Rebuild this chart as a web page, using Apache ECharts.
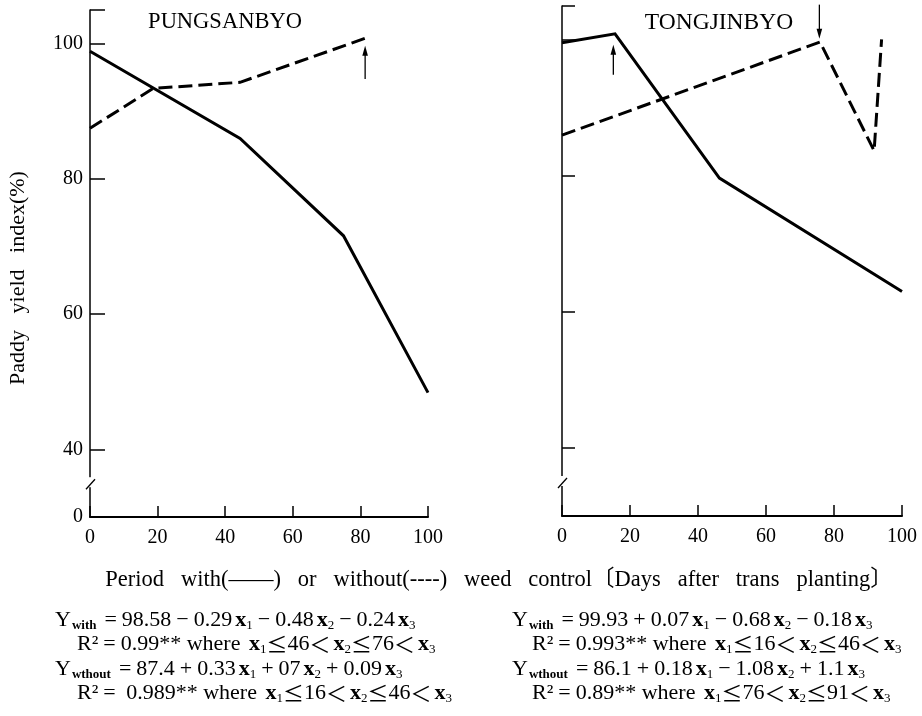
<!DOCTYPE html>
<html>
<head>
<meta charset="utf-8">
<script src="https://cdn.jsdelivr.net/npm/echarts@6/dist/echarts.min.js"></script>
<style>
html,body{margin:0;padding:0;background:#fff;}
#main{width:922px;height:716px;}
</style>
</head>
<body>
<div id="main"></div>
<script>
// ---- data (days after transplanting, yield index %) ----
const panelTitles = ['PUNGSANBYO', 'TONGJINBYO'];
const xTicks = [0, 20, 40, 60, 80, 100];
const yTickValues = [40, 60, 80, 100, 105];
const yLabelValues = [30, 40, 60, 80, 100];
const yLabelText = ['0', '40', '60', '80', '100'];

const leftWithDays = [0, 44.4, 75, 100];
const leftWithYield = [98.9, 86.0, 71.6, 48.4];
const leftWithoutDays = [0, 18.7, 44.4, 81.9];
const leftWithoutYield = [87.5, 93.4, 94.3, 100.9];

const rightWithDays = [0, 15.6, 46.3, 100];
const rightWithYield = [99.6, 100.9, 79.7, 63.0];
const rightWithoutDays = [0, 75.9, 91.8, 94.0];
const rightWithoutYield = [86.0, 99.7, 83.7, 100.1];

// arrows: [day, tail value, head value]
const leftArrows = [[81.4, 94.8, 99.7]];
const rightArrows = [[15.1, 94.9, 99.3], [75.7, 105.2, 100.2]];

const axisBreakValue = [[0, 35.0]];

const FONT = '"Liberation Serif", "DejaVu Serif", "Noto Sans CJK JP", serif';
const CJK = '"Noto Sans CJK JP", "Liberation Serif", serif';

function pairs(xs, ys) { return xs.map((x, i) => [x, ys[i]]); }

function yAxisCfg(gridIndex, showLabels, tickLen) {
  return {
    type: 'value', gridIndex: gridIndex, min: 30, max: 105,
    axisLine: { show: true, lineStyle: { color: '#000', width: 1.5 } },
    axisTick: { show: true, inside: true, length: tickLen, customValues: yTickValues,
                lineStyle: { color: '#000', width: 1.5 } },
    axisLabel: { show: showLabels, customValues: yLabelValues,
                 formatter: function (v) { const i = yLabelValues.indexOf(v); return i >= 0 ? yLabelText[i] : ''; },
                 fontFamily: FONT, fontSize: 20, color: '#000', margin: 7 },
    splitLine: { show: false }
  };
}
function xAxisCfg(gridIndex) {
  return {
    type: 'value', gridIndex: gridIndex, min: 0, max: 100, interval: 20,
    axisLine: { show: true, lineStyle: { color: '#000', width: 2 } },
    axisTick: { show: true, inside: true, length: 11, lineStyle: { color: '#000', width: 1.5 } },
    axisLabel: { fontFamily: FONT, fontSize: 20, color: '#000', margin: 11,
                 customValues: xTicks },
    splitLine: { show: false }
  };
}

function arrowRender(params, api) {
  const p0 = api.coord([api.value(0), api.value(1)]);
  const p1 = api.coord([api.value(0), api.value(2)]);
  const dir = p1[1] < p0[1] ? -1 : 1;
  const headLen = 10, hw = 2.8;
  return {
    type: 'group',
    children: [
      { type: 'line', shape: { x1: p0[0], y1: p0[1], x2: p1[0], y2: p1[1] - dir * headLen * 0.6 },
        style: { stroke: '#000', lineWidth: 1.3 } },
      { type: 'polygon', shape: { points: [[p1[0], p1[1]], [p1[0] - hw, p1[1] - dir * headLen], [p1[0] + hw, p1[1] - dir * headLen]] },
        style: { fill: '#000' } }
    ]
  };
}
function breakRender(params, api) {
  const p = api.coord([api.value(0), api.value(1)]);
  return {
    type: 'group',
    children: [
      { type: 'rect', shape: { x: p[0] - 3, y: p[1] - 6, width: 6, height: 10 }, style: { fill: '#fff' } },
      { type: 'line', shape: { x1: p[0] - 4, y1: p[1] + 6, x2: p[0] + 5, y2: p[1] - 4 },
        style: { stroke: '#000', lineWidth: 1.3 } }
    ]
  };
}

function lineSeries(xi, data, dashed) {
  return {
    type: 'line', xAxisIndex: xi, yAxisIndex: xi, data: data, symbol: 'none', silent: true,
    lineStyle: { color: '#000', width: 3, type: dashed ? [14, 6] : 'solid', join: 'miter' },
    z: 3, animation: false
  };
}

const rich = {
  n: { fontFamily: FONT, fontSize: 22, color: '#000' },
  o: { fontFamily: FONT, fontSize: 22, color: '#000', padding: [0, 5, 0, 5] },
  s: { fontFamily: FONT, fontSize: 13, fontWeight: 'bold', color: '#000', padding: [11, 3, 0, 1] },
  x: { fontFamily: FONT, fontSize: 22, fontWeight: 'bold', color: '#000', padding: [0, 0, 0, 3] },
  i: { fontFamily: FONT, fontSize: 13, color: '#000', padding: [11, 0, 0, 0] },
  c: { fontFamily: CJK, fontSize: 21, color: '#000' }
};
function ftext(x, y, t) {
  return { type: 'text', x: x, y: y, style: { text: t, rich: rich, verticalAlign: 'middle', align: 'left' } };
}
const X1 = '{x|x}{i|1}', X2 = '{x|x}{i|2}', X3 = '{x|x}{i|3}';
const eqLines = [
  [55, 620, '{n|Y}{s|with}{o|=}{n|98.58}{o|−}{n|0.29}' + X1 + '{o|−}{n|0.48}' + X2 + '{o|−}{n|0.24}' + X3],
  [77, 644, '{n|R²}{o|=}{n|0.99** where }' + X1 + '{c|≤}{n|46}{c|＜}' + X2 + '{c|≤}{n|76}{c|＜}' + X3],
  [55, 669, '{n|Y}{s|wthout}{o|=}{n|87.4}{o|+}{n|0.33}' + X1 + '{o|+}{n|07}' + X2 + '{o|+}{n|0.09}' + X3],
  [77, 693, '{n|R²}{o|=}{n| 0.989** where }' + X1 + '{c|≤}{n|16}{c|＜}' + X2 + '{c|≤}{n|46}{c|＜}' + X3],
  [512, 620, '{n|Y}{s|with}{o|=}{n|99.93}{o|+}{n|0.07}' + X1 + '{o|−}{n|0.68}' + X2 + '{o|−}{n|0.18}' + X3],
  [532, 644, '{n|R²}{o|=}{n|0.993** where }' + X1 + '{c|≤}{n|16}{c|＜}' + X2 + '{c|≤}{n|46}{c|＜}' + X3],
  [512, 669, '{n|Y}{s|wthout}{o|=}{n|86.1}{o|+}{n|0.18}' + X1 + '{o|−}{n|1.08}' + X2 + '{o|+}{n|1.1}' + X3],
  [532, 693, '{n|R²}{o|=}{n|0.89** where }' + X1 + '{c|≤}{n|76}{c|＜}' + X2 + '{c|≤}{n|91}{c|＜}' + X3]
];

const chart = echarts.init(document.getElementById('main'), null, { renderer: 'canvas' });
chart.setOption({
  animation: false,
  backgroundColor: '#fff',
  grid: [
    { left: 90, width: 338, top: 10, height: 507 },
    { left: 562, width: 340, top: 6, height: 510 }
  ],
  xAxis: [xAxisCfg(0), xAxisCfg(1)],
  yAxis: [yAxisCfg(0, true, 15), yAxisCfg(1, false, 13)],
  series: [
    lineSeries(0, pairs(leftWithDays, leftWithYield), false),
    lineSeries(0, pairs(leftWithoutDays, leftWithoutYield), true),
    lineSeries(1, pairs(rightWithDays, rightWithYield), false),
    lineSeries(1, pairs(rightWithoutDays, rightWithoutYield), true),
    { type: 'custom', xAxisIndex: 0, yAxisIndex: 0, data: leftArrows, renderItem: arrowRender, clip: false, silent: true, z: 4 },
    { type: 'custom', xAxisIndex: 1, yAxisIndex: 1, data: rightArrows, renderItem: arrowRender, clip: false, silent: true, z: 4 },
    { type: 'custom', xAxisIndex: 0, yAxisIndex: 0, data: axisBreakValue, renderItem: breakRender, clip: false, silent: true, z: 5 },
    { type: 'custom', xAxisIndex: 1, yAxisIndex: 1, data: axisBreakValue, renderItem: breakRender, clip: false, silent: true, z: 5 }
  ],
  graphic: [
    { type: 'text', x: 225, y: 22, style: { text: panelTitles[0], font: '22.5px ' + FONT, fill: '#000', align: 'center', verticalAlign: 'middle' } },
    { type: 'text', x: 719, y: 23, style: { text: panelTitles[1], font: '23.5px ' + FONT, fill: '#000', align: 'center', verticalAlign: 'middle' } },
    { type: 'text', x: 18, y: 278, rotation: Math.PI / 2,
      style: { text: 'Paddy   yield   index(%)', font: '22px ' + FONT, fill: '#000', align: 'center', verticalAlign: 'middle' } },
    { type: 'text', x: 499, y: 580,
      style: { text: 'Period   with(——)   or   without(----)   weed   control〔Days   after   trans   planting〕', font: '22.5px ' + FONT, fill: '#000', align: 'center', verticalAlign: 'middle' } }
  ].concat(eqLines.map(e => ftext(e[0], e[1], e[2])))
});
</script>
</body>
</html>
